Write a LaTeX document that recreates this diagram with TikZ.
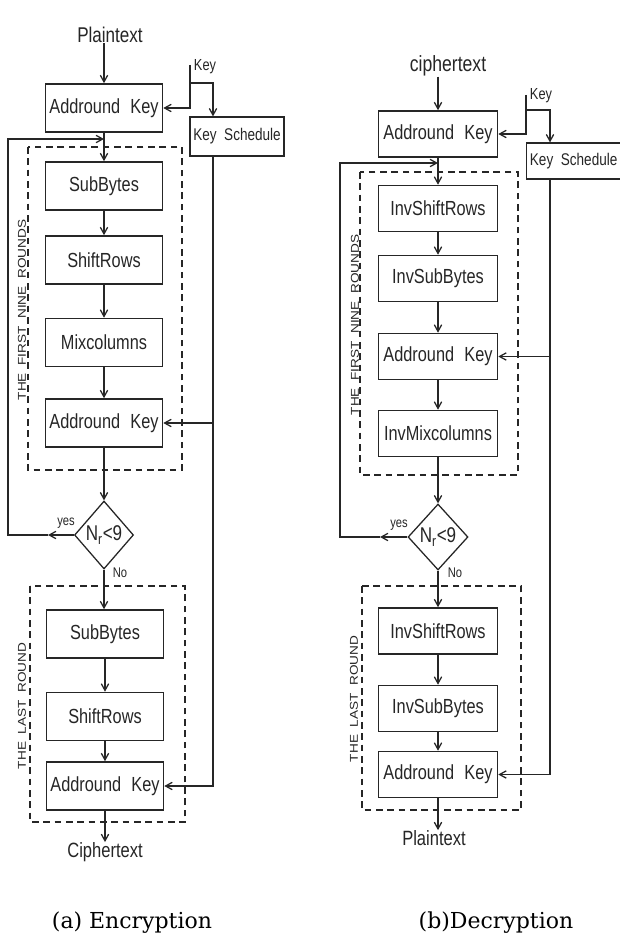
\documentclass[tikz,border=0pt]{standalone}
\usepackage{fontspec}
\setmainfont{Liberation Sans}[FakeStretch=0.8]
\newfontfamily\lblfont{Liberation Sans}[FakeStretch=1.2]
\newfontfamily\capfont{DejaVu Serif}
\usetikzlibrary{arrows.meta,shapes.geometric,calc}
\definecolor{ink}{gray}{0.15}
\begin{document}
\begin{tikzpicture}[x=0.75pt,y=-0.75pt,
 box/.style={draw=ink, line width=1.2pt, inner sep=0pt, text=ink, font=\fontsize{15.3}{15.3}\selectfont},
 lbox/.style={box, minimum width=87.75pt, minimum height=36pt},
 rbox/.style={box, minimum width=89.25pt, minimum height=34.5pt},
 ksbox/.style={draw=ink, line width=0.9pt, inner sep=0pt, text=ink, font=\fontsize{12.7}{13}\selectfont},
 dec/.style={diamond, draw=ink, line width=0.95pt, inner sep=0pt, text=ink, font=\fontsize{16}{16}\selectfont},
 frame/.style={draw=ink, line width=0.9pt, dash pattern=on 5pt off 3.5pt},
 conn/.style={draw=ink, line width=0.95pt},
 arr/.style={conn, -{Straight Barb[length=5pt,width=5.5pt]}},
 lbl/.style={text=ink, inner sep=0pt},
 rot/.style={lbl, rotate=90, font=\lblfont\fontsize{8.5}{8.5}\selectfont},
 small/.style={lbl, font=\fontsize{10.5}{10.5}\selectfont},
]
\clip (0,0) rectangle (620,938);
\fill[white] (0,0) rectangle (620,938);

% ---------------- (a) Encryption ----------------
\node[lbl, font=\fontsize{16}{16}\selectfont] (pt1) at (110,35) {Plaintext};
\node[lbox] (ak1) at (104,108) {Addround\hspace{0.5em}Key};
\node[lbl, font=\fontsize{12}{12}\selectfont] (key1) at (205,67) {Key};
\node[ksbox, minimum width=70.5pt, minimum height=29.25pt] (ks1) at (237,136.5) {Key\hspace{0.45em}Schedule};
\draw[frame] (28,147) rectangle (182,470);
\node[rot] (lab1) at (22,310) {THE\ \ FIRST\ \ NINE\ \ ROUNDS};
\node[lbox] (sb1) at (104,186) {SubBytes};
\node[lbox] (sr1) at (104,260) {ShiftRows};
\node[lbox] (mc1) at (104,342.5) {Mixcolumns};
\node[lbox] (ak2) at (104,423) {Addround\hspace{0.5em}Key};
\node[dec, minimum width=44.25pt, minimum height=51pt] (d1) at (104,535) {N\textsubscript{r}<9};
\node[small] (yes1) at (66,523) {yes};
\node[small] (no1) at (120,573) {No};
\draw[frame] (30,586) rectangle (185,822);
\node[rot] (lab2) at (22,706) {THE\ \ LAST\ \ ROUND};
\node[lbox] (sb2) at (105,634) {SubBytes};
\node[lbox] (sr2) at (105,716.5) {ShiftRows};
\node[lbox] (ak3) at (105,786) {Addround\hspace{0.5em}Key};
\node[lbl, font=\fontsize{15.5}{15.5}\selectfont] (ct1) at (105,852) {Ciphertext};

\coordinate (kt1) at (190,65);
\coordinate (kb1) at (190,83);
\coordinate (kc1) at (213,83);
\coordinate (ya1) at (48,535);
\coordinate (yl1) at (8,535);
\coordinate (yj1) at (104,139);

\draw[arr] (ak1.north |- pt1.south) -- (ak1.north);
\draw[conn] (kt1) -- (kb1);
\draw[arr] (kb1) |- (ak1.east);
\draw[arr] (kb1) -- (kc1) -- (kc1 |- ks1.north);
\draw[arr] (kc1 |- ks1.south) |- (ak2.east);
\draw[arr] (kc1 |- ak2.east) |- (ak3.east);
\draw[arr] (ak1) -- (sb1);
\draw[arr] (sb1) -- (sr1);
\draw[arr] (sr1) -- (mc1);
\draw[arr] (mc1) -- (ak2);
\draw[arr] (ak2) -- (d1);
\draw[arr] (d1.south) -- (d1.south |- sb2.north);
\draw[arr] (sb2) -- (sr2);
\draw[arr] (sr2) -- (ak3);
\draw[arr] (ak3.south) -- (ak3.south |- ct1.north);
\draw[arr] (d1.west) -- (ya1);
\draw[arr] (ya1) -- (yl1) |- (yj1);

% ---------------- (b) Decryption ----------------
\node[lbl, font=\fontsize{16.5}{16.5}\selectfont] (ct2) at (448,66) {ciphertext};
\node[rbox] (rak1) at (438,134) {Addround\hspace{0.5em}Key};
\node[lbl, font=\fontsize{12}{12}\selectfont] (key2) at (541,96) {Key};
\node[ksbox, anchor=west, minimum height=27pt, inner xsep=2.5pt, text width=73pt, align=left] (rks) at (526,161) {Key\hspace{0.45em}Schedule};
\draw[frame] (360,172) rectangle (518,475);
\node[rot] (lab3) at (355,325) {THE\ \ FIRST\ \ NINE\ \ ROUNDS};
\node[rbox] (ris1) at (438,208.5) {InvShiftRows};
\node[rbox] (rsb1) at (438,278.5) {InvSubBytes};
\node[rbox] (rak2) at (438,356.5) {Addround\hspace{0.5em}Key};
\node[rbox] (rmc) at (438,433.5) {InvMixcolumns};
\node[dec, minimum width=45pt, minimum height=49.5pt] (d2) at (438,537) {N\textsubscript{r}<9};
\node[small] (yes2) at (399,525) {yes};
\node[small] (no2) at (455,573) {No};
\draw[frame] (362,586) rectangle (521,810);
\node[rot] (lab4) at (354,699) {THE\ \ LAST\ \ ROUND};
\node[rbox] (ris2) at (438,631) {InvShiftRows};
\node[rbox] (rsb2) at (438,708.5) {InvSubBytes};
\node[rbox] (rak3) at (438,774.5) {Addround\hspace{0.5em}Key};
\node[lbl, font=\fontsize{15.5}{15.5}\selectfont] (pt2) at (434,838) {Plaintext};

\coordinate (kt2) at (526,95);
\coordinate (kb2) at (526,110);
\coordinate (kc2) at (550,110);
\coordinate (ya2) at (380,537);
\coordinate (yl2) at (340,537);
\coordinate (yj2) at (438,163);

\draw[arr] (rak1.north |- ct2.south) -- (rak1.north);
\draw[conn] (kt2) -- (kb2);
\draw[arr] (kb2) |- (rak1.east);
\draw[arr] (kb2) -- (kc2) -- (kc2 |- rks.north);
\draw[arr] (kc2 |- rks.south) |- (rak2.east);
\draw[arr] (kc2 |- rak2.east) |- (rak3.east);
\draw[arr] (rak1) -- (ris1);
\draw[arr] (ris1) -- (rsb1);
\draw[arr] (rsb1) -- (rak2);
\draw[arr] (rak2) -- (rmc);
\draw[arr] (rmc) -- (d2);
\draw[arr] (d2) -- (ris2);
\draw[arr] (ris2) -- (rsb2);
\draw[arr] (rsb2) -- (rak3);
\draw[arr] (rak3.south) -- (rak3.south |- pt2.north);
\draw[arr] (d2.west) -- (ya2);
\draw[arr] (ya2) -- (yl2) |- (yj2);

% ---------------- captions ----------------
\node[inner sep=0pt, font=\capfont\fontsize{16.5}{16.5}\selectfont] (capa) at (132,923) {(a) Encryption};
\node[inner sep=0pt, font=\capfont\fontsize{16.5}{16.5}\selectfont] (capb) at (496,923) {(b)Decryption};
\end{tikzpicture}
\end{document}
